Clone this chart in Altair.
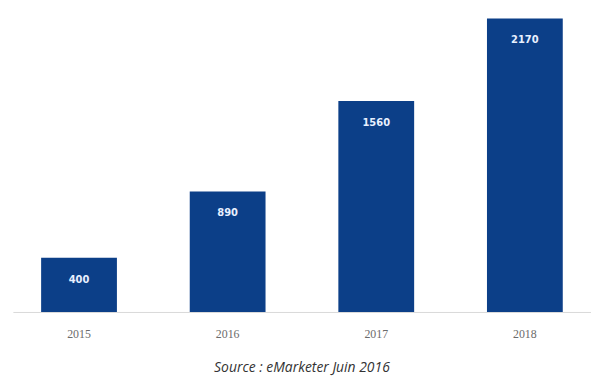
import altair as alt
import pandas as pd

years = ["2015", "2016", "2017", "2018"]
values = [400, 890, 1560, 2170]
source_text = "Source : eMarketer Juin 2016"

df = pd.DataFrame({"year": years, "value": values})

base = alt.Chart(df).encode(
    x=alt.X(
        "year:N",
        sort=years,
        scale=alt.Scale(paddingInner=0.49, paddingOuter=0.19),
        axis=alt.Axis(
            title=None,
            labelAngle=0,
            labelFont="Liberation Serif",
            labelFontSize=12,
            labelColor="#6b6b6b",
            labelPadding=17,
            ticks=False,
            domainColor="#d9d9d9",
            domainWidth=1,
            grid=False,
        ),
    ),
    y=alt.Y(
        "value:Q",
        scale=alt.Scale(domain=[0, 2170], nice=False),
        axis=None,
    ),
)

bars = base.mark_bar(color="#0C3F88")
labels = base.mark_text(
    baseline="middle",
    dy=22,
    color="#e8f0ff",
    font="DejaVu Sans",
    fontWeight="bold",
    fontSize=10,
).encode(text="value:Q")

chart = (
    (bars + labels)
    .properties(
        width=583,
        height=296,
        background="white",
        autosize=alt.AutoSizeParams(type="none"),
        padding={"left": 13, "top": 17, "right": 0, "bottom": 68},
        title=alt.TitleParams(
            source_text,
            orient="bottom",
            anchor="middle",
            font="Open Sans",
            fontStyle="italic",
            fontWeight="normal",
            fontSize=14,
            color="#333333",
            offset=22,
        ),
    )
    .configure_view(strokeWidth=0, stroke="transparent")
)

chart.save("out.html", embed_options={"renderer": "svg", "actions": False})
